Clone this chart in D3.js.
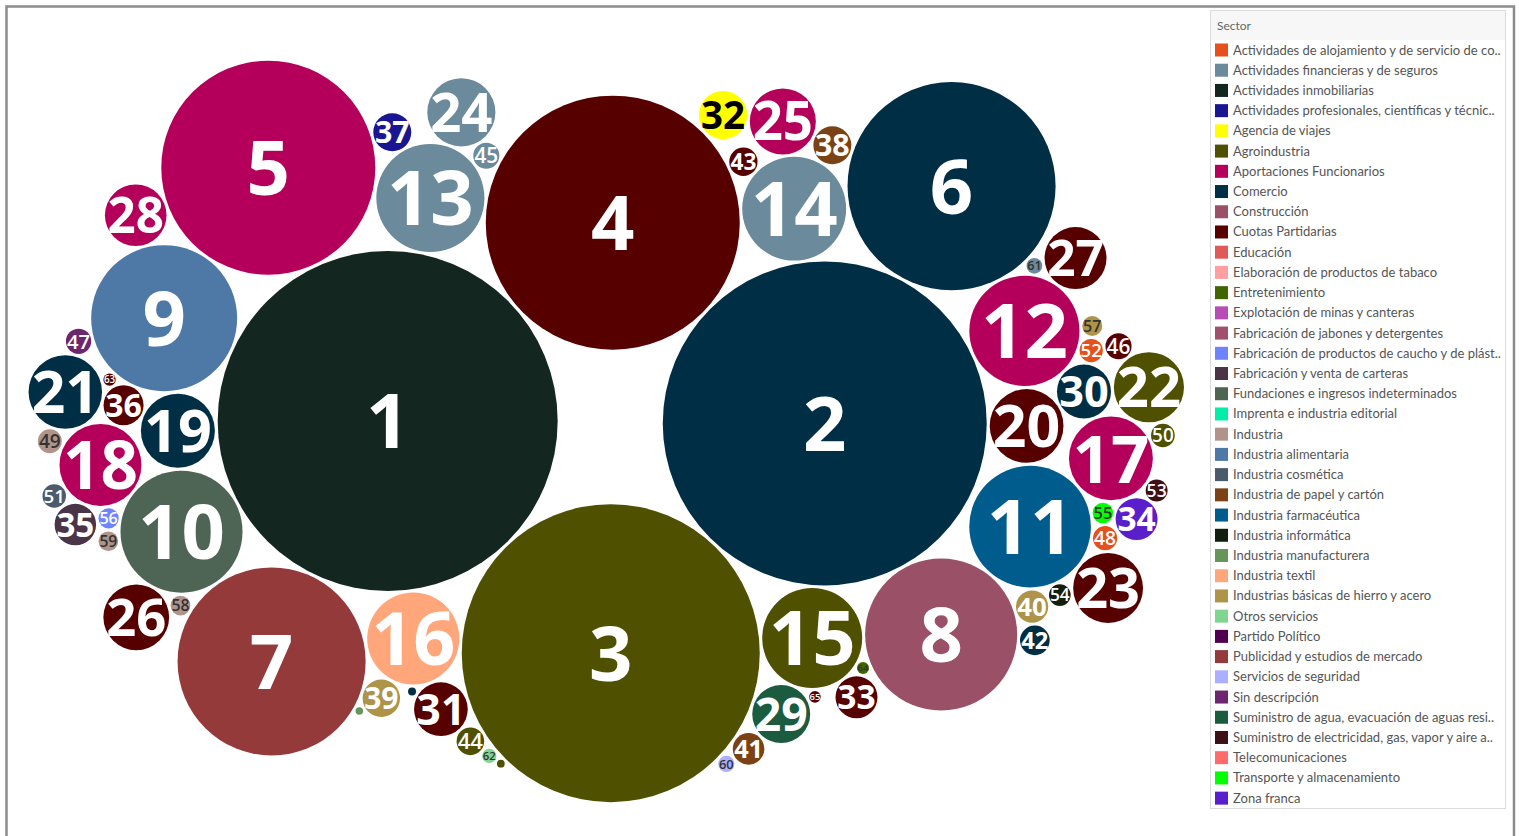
<!DOCTYPE html>
<html lang="es">
<head>
<meta charset="utf-8">
<title>Sector bubbles</title>
<script src="https://cdn.jsdelivr.net/npm/d3@7"></script>
<style>
  body{margin:0;background:#fff;font-family:Lato, "Open Sans", sans-serif;}
  #chart{width:1519px;height:836px;}
</style>
</head>
<body>
<div id="chart"></div>
<script>
// sectors as shown in the legend (truncated the same way)
var sectors = [
  "Actividades de alojamiento y de servicio de co..",
  "Actividades financieras y de seguros",
  "Actividades inmobiliarias",
  "Actividades profesionales, científicas y técnic..",
  "Agencia de viajes",
  "Agroindustria",
  "Aportaciones Funcionarios",
  "Comercio",
  "Construcción",
  "Cuotas Partidarias",
  "Educación",
  "Elaboración de productos de tabaco",
  "Entretenimiento",
  "Explotación de minas y canteras",
  "Fabricación de jabones y detergentes",
  "Fabricación de productos de caucho y de plást..",
  "Fabricación y venta de carteras",
  "Fundaciones e ingresos indeterminados",
  "Imprenta e industria editorial",
  "Industria",
  "Industria alimentaria",
  "Industria cosmética",
  "Industria de papel y cartón",
  "Industria farmacéutica",
  "Industria informática",
  "Industria manufacturera",
  "Industria textil",
  "Industrias básicas de hierro y acero",
  "Otros servicios",
  "Partido Político",
  "Publicidad y estudios de mercado",
  "Servicios de seguridad",
  "Sin descripción",
  "Suministro de agua, evacuación de aguas resi..",
  "Suministro de electricidad, gas, vapor y aire a..",
  "Telecomunicaciones",
  "Transporte y almacenamiento",
  "Zona franca"
];
var sectorColors = [
  "#e5501b","#6b8a9c","#13261f","#1a1590","#ffff00","#4f5000","#b5005b","#002f45",
  "#9a5066","#560000","#e05a5a","#ff9f9f","#406600","#b74db5","#a0506a","#6e84ff",
  "#4a3448","#4e6454","#00eea8","#b0948a","#4e79a7","#4b5b6b","#7b4315","#005c8c",
  "#121f10","#66955a","#ffa77a","#ad9448","#80d690","#500050","#943a3b","#aab0ff",
  "#6e2570","#1b5c40","#3d1015","#ff6b6b","#00ff00","#5a1fcc"
];

// one entry per bubble: label, value, sector index
var bubbleLabels = d3.range(1, 66).map(String).concat(["", "", ""]);
var bubbleValues = [
  2890, 2624, 2220, 1613, 1145, 1082, 884, 578, 533, 372,
  370, 303, 292, 270, 250, 212, 176, 168, 137, 136,
  135, 123, 122, 116, 109, 108, 96, 95, 84, 73,
  72, 58, 44, 44, 43, 40, 36, 36, 35, 26,
  25, 22, 20, 19, 17, 17, 16, 14.5, 14.2, 14,
  13.8, 13.5, 12, 11.8, 10.5, 10.2, 10, 9.8, 9.6, 6.5,
  6.2, 5, 3.8, 3.6, 3.4, 1.6, 1.5, 1.4
];
var bubbleSectors = [
  2, 7, 5, 9, 6, 7, 30, 8, 20, 17,
  23, 6, 1, 1, 5, 26, 6, 6, 7, 9,
  7, 5, 9, 1, 6, 9, 9, 6, 33, 7,
  9, 4, 9, 37, 16, 9, 3, 22, 27, 27,
  22, 7, 9, 5, 1, 9, 32, 0, 19, 5,
  21, 0, 34, 24, 36, 15, 27, 19, 19, 31,
  1, 28, 9, 12, 9, 7, 5, 25
];
// labels Tableau drew in dark text
var darkLabels = ["32", "49", "55", "57", "58", "59", "60", "61", "62", "64"];

var W = 1519, H = 836;
var area = {x0: 12, x1: 1184, y0: 14, y1: 826};

var svg = d3.select("#chart").append("svg")
  .attr("width", W).attr("height", H);

var color = d3.scaleOrdinal().domain(sectors).range(sectorColors);
var rScale = d3.scaleSqrt().domain([0, d3.max(bubbleValues)]).range([0, 170]);

var nodes = bubbleValues.map(function(v, i){
  return {label: bubbleLabels[i], value: v, sector: sectors[bubbleSectors[i]], r: rScale(v)};
});

// start from a circle pack, stretch it to the wide plot area, then relax with a force layout
d3.packSiblings(nodes);
var cx = (area.x0 + area.x1) / 2, cy = (area.y0 + area.y1) / 2;
nodes.forEach(function(d){ d.x = cx + d.x * 1.3; d.y = cy + d.y * 0.8; });

var sim = d3.forceSimulation(nodes)
  .force("x", d3.forceX(cx).strength(0.012))
  .force("y", d3.forceY(cy).strength(0.04))
  .force("collide", d3.forceCollide(function(d){ return d.r + 1.5; }).strength(0.9).iterations(4))
  .stop();

for (var i = 0; i < 500; i++) {
  sim.tick();
  nodes.forEach(function(d){
    d.x = Math.max(area.x0 + d.r, Math.min(area.x1 - d.r, d.x));
    d.y = Math.max(area.y0 + d.r, Math.min(area.y1 - d.r, d.y));
  });
}

var g = svg.append("g");
var bub = g.selectAll(".bubble")
  .data(nodes)
  .enter()
  .append("g")
  .attr("class", "bubble")
  .attr("transform", function(d){ return "translate(" + d.x + "," + d.y + ")"; });

bub.append("circle")
  .attr("r", function(d){ return d.r; })
  .attr("fill", function(d){ return color(d.sector); });

bub.append("text")
  .text(function(d){ return d.label; })
  .attr("text-anchor", "middle")
  .attr("dy", "0.36em")
  .attr("font-family", "'Open Sans', Lato, sans-serif")
  .attr("font-weight", function(d){ return d.r > 14 ? 700 : 600; })
  .attr("font-size", function(d){ return Math.max(9.5, Math.min(76, d.r * 1.6)) + "px"; })
  .attr("fill", function(d){
    if (d.label === "32") return "#000";
    return darkLabels.indexOf(d.label) >= 0 ? "#333" : "#fff";
  });

// legend
var lg = svg.append("g").attr("transform", "translate(1210,10)");
lg.append("rect")
  .attr("x", 0.5).attr("y", 0.5).attr("width", 295).attr("height", 798)
  .attr("fill", "#fff").attr("stroke", "#dcdcdc");
lg.append("rect")
  .attr("x", 1).attr("y", 1).attr("width", 294).attr("height", 29)
  .attr("fill", "#f7f7f7");
lg.append("text")
  .attr("x", 7).attr("y", 20)
  .attr("font-size", "12px").attr("fill", "#666")
  .text("Sector");

var item = lg.selectAll(".item")
  .data(sectors)
  .enter()
  .append("g")
  .attr("class", "item")
  .attr("transform", function(d, i){ return "translate(5," + (33.5 + i * 20.22) + ")"; });
item.append("rect")
  .attr("width", 13).attr("height", 13)
  .attr("fill", function(d){ return color(d); });
item.append("text")
  .attr("x", 18).attr("y", 11)
  .attr("font-size", "13px").attr("fill", "#555")
  .text(function(d){ return d; });

// outer frame
svg.append("path")
  .attr("d", "M6.5," + H + "V6.5H1514V" + H)
  .attr("fill", "none").attr("stroke", "#8c8c8c").attr("stroke-width", 2.5);
</script>
</body>
</html>
